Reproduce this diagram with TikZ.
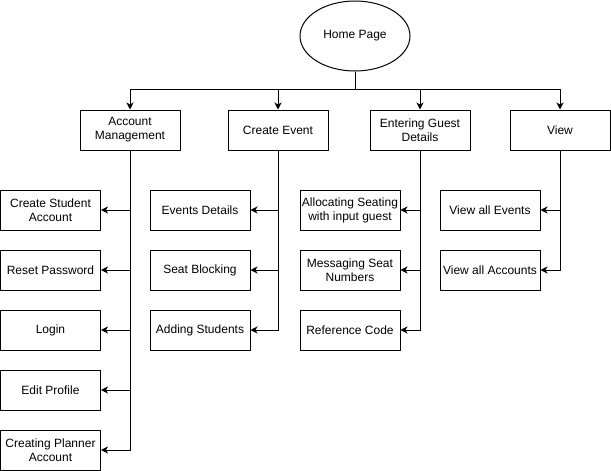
\documentclass[tikz,border=0pt]{standalone}
\usepackage{fontspec}
\setmainfont{Liberation Sans}
\usetikzlibrary{
  shapes.geometric,
  arrows.meta,
  positioning
}

\begin{document}
\begin{tikzpicture}[
  x=1pt, y=-1pt,
  node distance=19pt,
  every node/.style={font=\fontsize{12}{14}\selectfont},
  box/.style={
    rectangle, draw=black, line width=1pt,
    minimum width=100pt, minimum height=40pt,
    inner sep=1pt, align=center
  },
  homebox/.style={
    ellipse, draw=black, line width=1pt,
    minimum width=110pt, minimum height=70pt
  },
  arr/.style={-{Stealth[length=7pt,width=7pt,inset=2pt]}, line width=1pt}
]
  \useasboundingbox (0,0) rectangle (611,471);

  % Root
  \node[homebox] (home) at (355,36) {Home Page};

  % Main sections
  \node[box] (acc) at (130,130) {Account\\Management};
  \node[box] (event) at (278,130) {Create Event};
  \node[box] (guest) at (420,130) {Entering Guest\\Details};
  \node[box] (view) at (560,130) {View};

  % Account management
  \node[box] (student) at (50.5,210) {Create Student\\Account};
  \node[box, below=of student] (reset) {Reset Password};
  \node[box, below=of reset] (login) {Login};
  \node[box, below=of login] (profile) {Edit Profile};
  \node[box, below=of profile] (planner) {Creating Planner\\Account};

  % Create event
  \node[box] (details) at (200,210) {Events Details};
  \node[box, below=of details] (blocking) {Seat Blocking};
  \node[box, below=of blocking] (adding) {Adding Students};

  % Guest details
  \node[box] (allocate) at (350,210) {Allocating Seating\\with input guest};
  \node[box, below=of allocate] (message) {Messaging Seat\\Numbers};
  \node[box, below=of message] (refcode) {Reference Code};

  % View
  \node[box] (allevents) at (490,210) {View all Events};
  \node[box, below=of allevents] (allaccounts) {View all Accounts};

  % Arrows
  \foreach \to in {acc, event, guest, view} {
    \draw[arr] (home.south) -- ++(0,18) -| (\to.north);
  }
  \foreach \from/\to in {acc/student, acc/reset, acc/login, acc/profile, acc/planner,
                          event/details, event/blocking, event/adding,
                          guest/allocate, guest/message, guest/refcode,
                          view/allevents, view/allaccounts} {
    \draw[arr] (\from.south) |- (\to.east);
  }
\end{tikzpicture}
\end{document}
